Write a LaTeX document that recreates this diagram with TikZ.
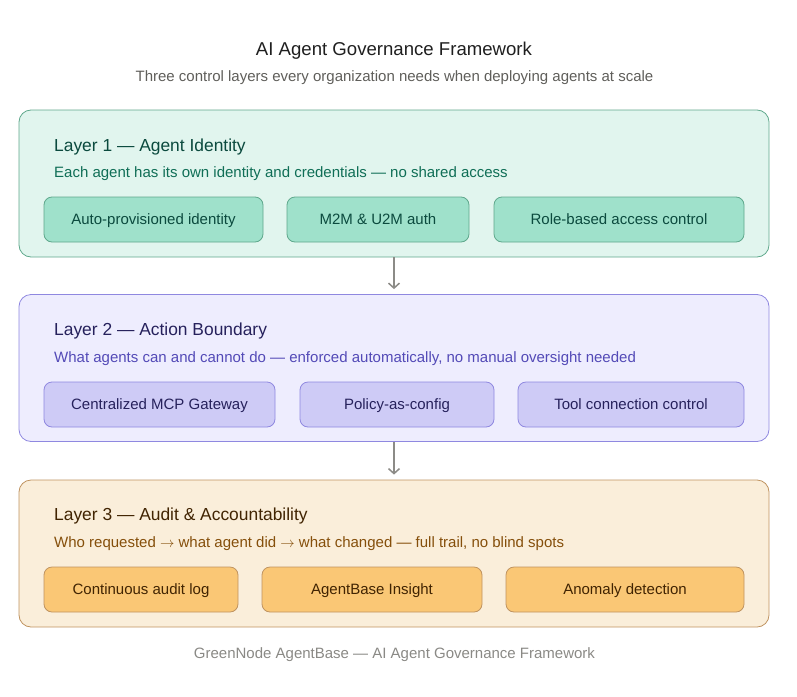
\documentclass[tikz,border=0pt]{standalone}
\usepackage{fontspec}
\setmainfont{Liberation Sans}
\usetikzlibrary{arrows.meta}

\definecolor{titleink}{HTML}{1F1F1F}
\definecolor{greyink}{HTML}{5F5E5A}
\definecolor{footink}{HTML}{8A8985}
\definecolor{arrowgrey}{HTML}{8C8B87}
\definecolor{idfill}{HTML}{E1F5EE}
\definecolor{idline}{HTML}{5FA88C}
\definecolor{idchip}{HTML}{9FE1CB}
\definecolor{idhead}{HTML}{0B4A3E}
\definecolor{idnote}{HTML}{0F6E56}
\definecolor{actfill}{HTML}{EEEDFE}
\definecolor{actline}{HTML}{8F88E0}
\definecolor{actchip}{HTML}{CECBF6}
\definecolor{acthead}{HTML}{26215C}
\definecolor{actnote}{HTML}{534AB7}
\definecolor{audfill}{HTML}{FAEEDA}
\definecolor{audline}{HTML}{BF9360}
\definecolor{audchip}{HTML}{FAC775}
\definecolor{audhead}{HTML}{412402}
\definecolor{audnote}{HTML}{854F0B}

\tikzset{
  layerbox/.style={rounded corners=12pt, line width=0.8pt, minimum width=750pt, minimum height=147pt},
  chip/.style={rounded corners=8pt, line width=0.8pt, minimum height=45pt, text height=10.8pt, text depth=0pt, font=\fontsize{15}{18}\selectfont},
  head/.style={anchor=base west, inner sep=0pt, font=\fontsize{17.4}{20}\selectfont},
  note/.style={anchor=base west, inner sep=0pt, font=\fontsize{15}{18}\selectfont},
  flow/.style={draw=arrowgrey, line width=1.5pt, -{Straight Barb[length=5pt,width=11pt]}, shorten >=5pt}
}

\begin{document}
\begin{tikzpicture}[x=1pt,y=-1pt]
\useasboundingbox (0,0) rectangle (797,696);

\node[anchor=base, inner sep=0pt, text=titleink, font=\fontsize{18.6}{22}\selectfont] (title) at (394,55.8) {AI Agent Governance Framework};
\node[anchor=base, inner sep=0pt, text=greyink, font=\fontsize{15}{18}\selectfont] (subtitle) at (394.5,81) {Three control layers every organization needs when deploying agents at scale};

% layer 1
\node[layerbox, fill=idfill, draw=idline] (L1) at (394,183.5) {};
\node[head, text=idhead] (L1head) at (54,151) {Layer 1 — Agent Identity};
\node[note, text=idnote] (L1note) at (54,177) {Each agent has its own identity and credentials — no shared access};
\foreach \n/\x/\w/\t in {a/153.5/219/Auto-provisioned identity, b/378/182/M2M \& U2M auth, c/619/250/Role-based access control}
  \node[chip, fill=idchip, draw=idline, text=idhead, minimum width=\w pt] (L1\n) at (\x,219.5) {\t};

% layer 2
\node[layerbox, fill=actfill, draw=actline] (L2) at (394,368) {};
\node[head, text=acthead] (L2head) at (54,335) {Layer 2 — Action Boundary};
\node[note, text=actnote] (L2note) at (54,362) {What agents can and cannot do — enforced automatically, no manual oversight needed};
\foreach \n/\x/\w/\t in {a/159.5/231/Centralized MCP Gateway, b/397/194/Policy-as-config, c/631/226/Tool connection control}
  \node[chip, fill=actchip, draw=actline, text=acthead, minimum width=\w pt] (L2\n) at (\x,404.5) {\t};

% layer 3
\node[layerbox, fill=audfill, draw=audline] (L3) at (394,553.5) {};
\node[head, text=audhead] (L3head) at (54,520) {Layer 3 — Audit \& Accountability};
\node[note, text=audnote] (L3note) at (54,547) {Who requested $\rightarrow$ what agent did $\rightarrow$ what changed — full trail, no blind spots};
\foreach \n/\x/\w/\t in {a/141/194/Continuous audit log, b/372/220/AgentBase Insight, c/625/238/Anomaly detection}
  \node[chip, fill=audchip, draw=audline, text=audhead, minimum width=\w pt] (L3\n) at (\x,589.5) {\t};

\draw[flow] (L1) -- (L2);
\draw[flow] (L2) -- (L3);

\node[anchor=base, inner sep=0pt, text=footink, font=\fontsize{15}{18}\selectfont] (footer) at (394.5,658) {GreenNode AgentBase — AI Agent Governance Framework};
\end{tikzpicture}
\end{document}
